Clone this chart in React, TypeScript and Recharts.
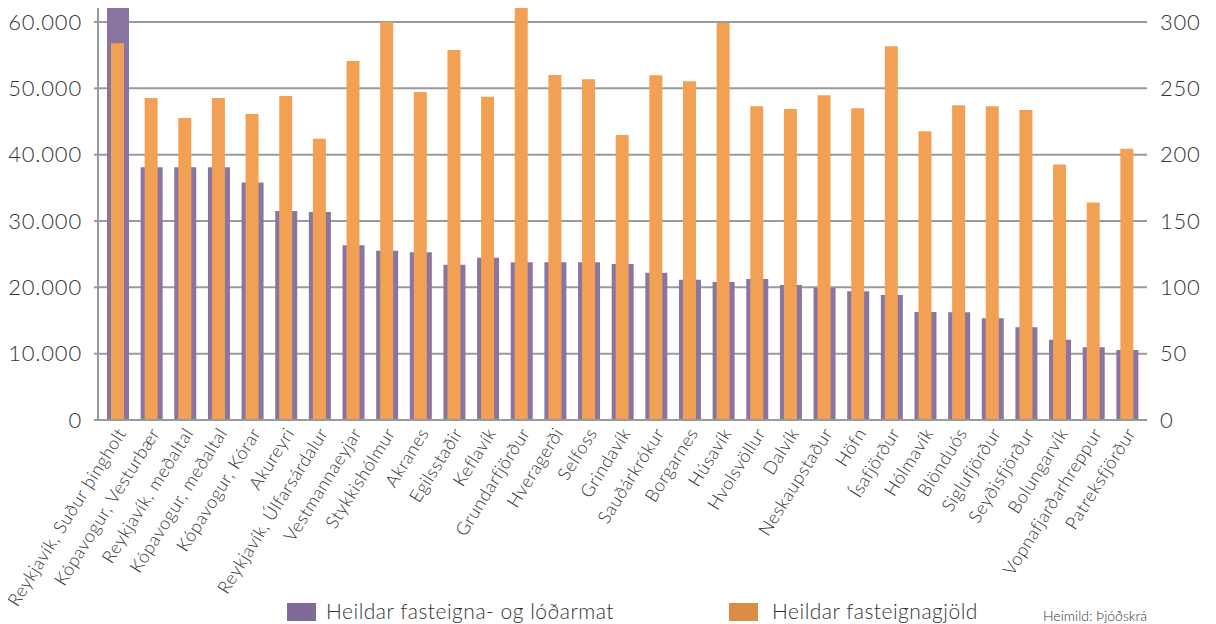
import React from "react";
import { ComposedChart, Bar, XAxis, YAxis, CartesianGrid } from "recharts";

const categories = [
  "Reykjavík, Suður þingholt",
  "Kópavogur, Vesturbær",
  "Reykjavík, meðaltal",
  "Kópavogur, meðaltal",
  "Kópavogur, Kórar",
  "Akureyri",
  "Reykjavík, Úlfarsárdalur",
  "Vestmannaeyjar",
  "Stykkishólmur",
  "Akranes",
  "Egilsstaðir",
  "Keflavík",
  "Grundarfjörður",
  "Hveragerði",
  "Selfoss",
  "Grindavík",
  "Sauðárkrókur",
  "Borgarnes",
  "Húsavík",
  "Hvolsvöllur",
  "Dalvík",
  "Neskaupstaður",
  "Höfn",
  "Ísafjörður",
  "Hólmavík",
  "Blönduós",
  "Siglufjörður",
  "Seyðisfjörður",
  "Bolungarvík",
  "Vopnafjarðarhreppur",
  "Patreksfjörður",
];

const propertyValue = [
  62260, 38100, 38100, 38100, 35800, 31500, 31350, 26330, 25520, 25280,
  23420, 24470, 23770, 23770, 23770, 23520, 22210, 21150, 20800, 21250,
  20350, 19950, 19400, 18840, 16280, 16230, 15330, 13970, 12110, 10950,
  10550,
];

const propertyTax = [
  284, 242.7, 227.6, 242.7, 230.7, 244.2, 212, 270.6, 300, 247.2,
  278.9, 243.7, 330, 260.1, 256.8, 214.8, 259.8, 255.3, 299.3, 236.5,
  234.4, 244.8, 235, 281.7, 217.6, 237.2, 236.5, 233.7, 192.5, 164,
  204.5,
];

const leftTicks = [0, 10000, 20000, 30000, 40000, 50000, 60000];
const rightTicks = [0, 50, 100, 150, 200, 250, 300];

const seriesNames = ["Heildar fasteigna- og lóðarmat", "Heildar fasteignagjöld"];
const sourceText = "Heimild: Þjóðskrá";

const data = categories.map((name, i) => ({
  name,
  value: propertyValue[i],
  tax: propertyTax[i],
}));

const PURPLE = "#8a74a1";
const ORANGE = "#f2a154";
const GRID = "#9a9a9a";
const TEXT = "#333333";
const FONT = "Lato, 'Open Sans', sans-serif";

const fmtThousands = (v: number) =>
  String(v).replace(/\B(?=(\d{3})+(?!\d))/g, ".");

const XTick = (props: any) => {
  const { x, payload } = props;
  return (
    <g transform={`translate(${x + 9},${433})`}>
      <text
        x={0}
        y={0}
        transform="rotate(-58)"
        textAnchor="end"
        fill={TEXT}
        fontFamily={FONT}
        fontWeight={300}
        fontSize={18}
        letterSpacing={0.5}
      >
        {payload.value}
      </text>
    </g>
  );
};

export default function App() {
  return (
    <div
      style={{
        position: "relative",
        width: 1216,
        height: 624,
        margin: "-8px 0 0 -8px",
        background: "#fff",
        fontFamily: FONT,
      }}
    >
      <ComposedChart
        width={1216}
        height={624}
        data={data}
        margin={{ top: 0, right: 0, left: 8, bottom: 0 }}
      >
        <CartesianGrid
          xAxisId="a"
          yAxisId="left"
          vertical={false}
          stroke={GRID}
          strokeWidth={2}
        />
        <XAxis
          xAxisId="a"
          dataKey="name"
          interval={0}
          tickLine={false}
          axisLine={{ stroke: GRID, strokeWidth: 2 }}
          padding={{ left: 3, right: 3 }}
          height={204}
          tick={<XTick />}
        />
        <XAxis
          xAxisId="b"
          dataKey="name"
          hide
          padding={{ left: 3, right: 3 }}
        />
        <YAxis
          yAxisId="left"
          orientation="left"
          width={90}
          domain={[0, 63317]}
          ticks={leftTicks}
          allowDataOverflow
          tickFormatter={fmtThousands}
          axisLine={{ stroke: GRID, strokeWidth: 2 }}
          tickLine={{ stroke: GRID, strokeWidth: 2 }}
          tickSize={4}
          tickMargin={12}
          tick={{ fill: TEXT, fontSize: 22, fontFamily: FONT, fontWeight: 300, letterSpacing: 0.8 }}
        />
        <YAxis
          yAxisId="right"
          orientation="right"
          width={69}
          domain={[0, 316.58]}
          ticks={rightTicks}
          allowDataOverflow
          axisLine={false}
          tickLine={false}
          tickSize={6}
          tickMargin={7}
          tick={{ fill: TEXT, fontSize: 22, fontFamily: FONT, fontWeight: 300, textAnchor: "start", letterSpacing: 0.8 }}
        />
        <Bar
          xAxisId="a"
          yAxisId="left"
          dataKey="value"
          fill={PURPLE}
          barSize={22}
          isAnimationActive={false}
        />
        <Bar
          xAxisId="b"
          yAxisId="right"
          dataKey="tax"
          fill={ORANGE}
          barSize={13}
          isAnimationActive={false}
        />
      </ComposedChart>

      <div style={{ position: "absolute", left: 287, top: 603, width: 29, height: 18, background: "#7f6a98" }} />
      <div
        style={{
          position: "absolute",
          left: 326,
          top: 598,
          fontSize: 21,
          lineHeight: "26px",
          letterSpacing: 0.5,
          color: TEXT,
          fontWeight: 300,
          whiteSpace: "nowrap",
        }}
      >
        {seriesNames[0]}
      </div>
      <div style={{ position: "absolute", left: 729, top: 603, width: 29, height: 18, background: "#d98e44" }} />
      <div
        style={{
          position: "absolute",
          left: 772,
          top: 598,
          fontSize: 21,
          lineHeight: "26px",
          letterSpacing: 0.5,
          color: TEXT,
          fontWeight: 300,
          whiteSpace: "nowrap",
        }}
      >
        {seriesNames[1]}
      </div>
      <div
        style={{
          position: "absolute",
          left: 1043,
          top: 607,
          fontSize: 14,
          lineHeight: "18px",
          color: TEXT,
          fontWeight: 300,
          whiteSpace: "nowrap",
        }}
      >
        {sourceText}
      </div>
    </div>
  );
}
